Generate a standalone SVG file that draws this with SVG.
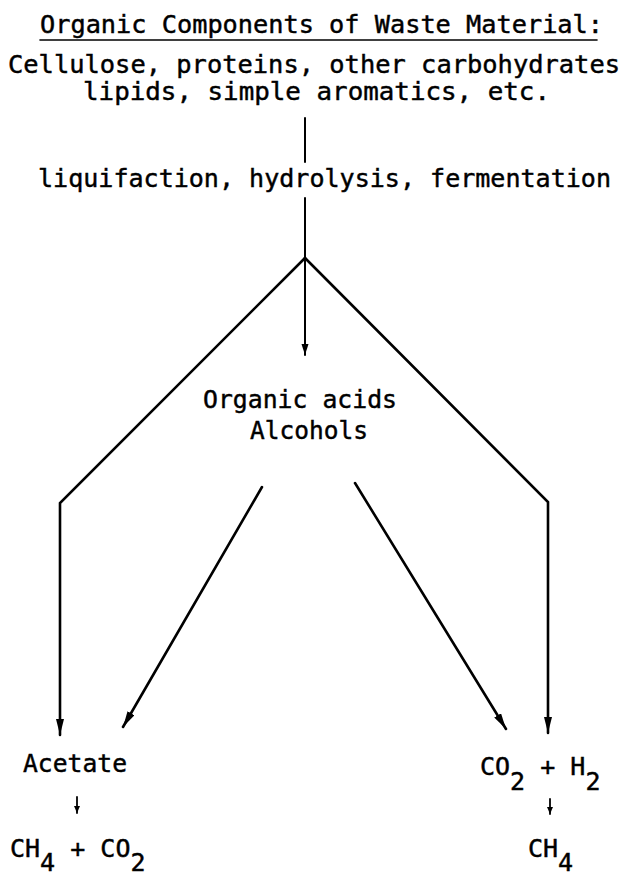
<svg xmlns="http://www.w3.org/2000/svg" width="627" height="878" viewBox="0 0 627 878">
  <style>
    text { font-family: "DejaVu Sans Mono", "Liberation Mono", monospace; font-size: 25px; fill: #000; stroke: #000; stroke-width: 0.45; }
    .ln { stroke: #000; fill: none; stroke-linecap: round; stroke-linejoin: miter; }
    .thick { stroke-width: 2.6; }
    .thin { stroke-width: 2; }
  </style>
  <defs>
    <marker id="ah" markerUnits="userSpaceOnUse" markerWidth="18" markerHeight="10" refX="16" refY="4" orient="auto">
      <path d="M0,0 L16,4 L0,8 Z" fill="#000"/>
    </marker>
    <marker id="ahs" markerUnits="userSpaceOnUse" markerWidth="12" markerHeight="8" refX="11" refY="3.5" orient="auto">
      <path d="M0,0 L11,3.5 L0,7 Z" fill="#000"/>
    </marker>
    <marker id="ahx" markerUnits="userSpaceOnUse" markerWidth="8" markerHeight="8" refX="7" refY="3" orient="auto">
      <path d="M0,0 L7,3 L0,6 Z" fill="#000"/>
    </marker>
  </defs>

  <g id="source">
    <text x="40" y="33" textLength="563" lengthAdjust="spacingAndGlyphs">Organic Components of Waste Material:</text>
    <line class="ln" x1="40" y1="40" x2="597" y2="40" stroke-width="1.6"/>
    <text x="8" y="73" textLength="612" lengthAdjust="spacingAndGlyphs">Cellulose, proteins, other carbohydrates</text>
    <text x="83" y="100" textLength="467" lengthAdjust="spacingAndGlyphs">lipids, simple aromatics, etc.</text>
  </g>

  <g id="process">
    <text x="38" y="187" textLength="573" lengthAdjust="spacingAndGlyphs">liquifaction, hydrolysis, fermentation</text>
  </g>

  <g id="acids">
    <text x="203" y="408" textLength="194" lengthAdjust="spacingAndGlyphs">Organic acids</text>
    <text x="250" y="439" textLength="118" lengthAdjust="spacingAndGlyphs">Alcohols</text>
  </g>

  <g id="acetate">
    <text x="23" y="772" textLength="104" lengthAdjust="spacingAndGlyphs">Acetate</text>
  </g>

  <g id="ch4-co2">
    <text x="10" y="857">CH<tspan dy="14">4</tspan><tspan dy="-14"> + CO</tspan><tspan dy="14">2</tspan></text>
  </g>

  <g id="co2-h2">
    <text x="480" y="775">CO<tspan dy="15">2</tspan><tspan dy="-15"> + H</tspan><tspan dy="15">2</tspan></text>
  </g>

  <g id="ch4">
    <text x="528" y="857">CH<tspan dy="14">4</tspan></text>
  </g>

  <g id="connectors">
    <line class="ln thin" x1="305" y1="118" x2="305" y2="162"/>
    <line class="ln thin" x1="305" y1="198" x2="305" y2="355" marker-end="url(#ahs)"/>
    <polyline class="ln thick" points="305,258 60,503 60,735" marker-end="url(#ah)"/>
    <polyline class="ln thick" points="305,258 548,502 548,733" marker-end="url(#ah)"/>
    <line class="ln thick" x1="262" y1="487" x2="123" y2="727" marker-end="url(#ah)"/>
    <line class="ln thick" x1="355" y1="483" x2="506" y2="729" marker-end="url(#ah)"/>
    <line class="ln" stroke-width="1.8" x1="77" y1="797" x2="77" y2="813" marker-end="url(#ahx)"/>
    <line class="ln" stroke-width="1.8" x1="550" y1="799" x2="550" y2="814" marker-end="url(#ahx)"/>
  </g>
</svg>
